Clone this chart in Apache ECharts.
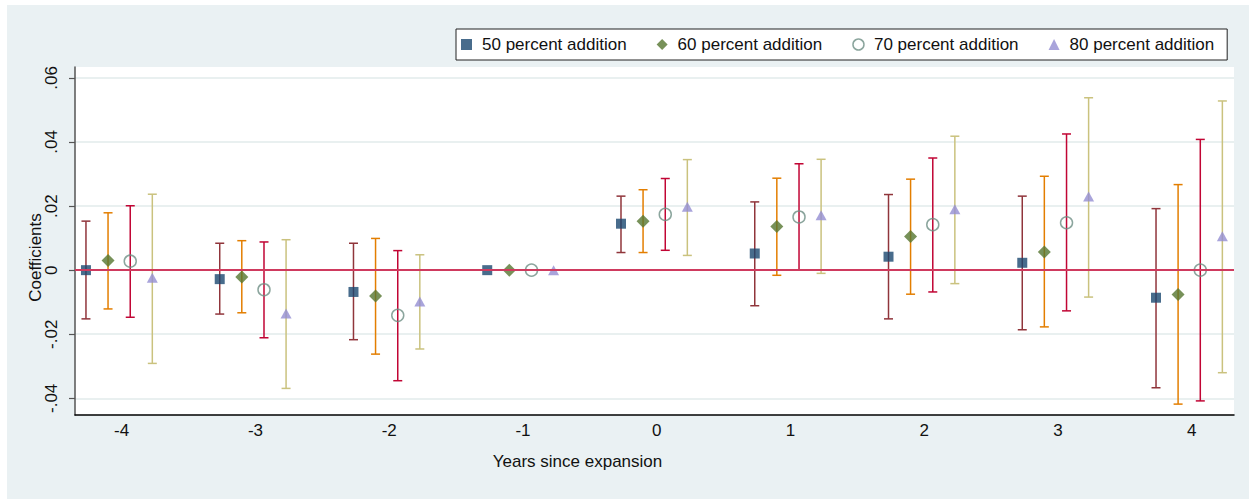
<!DOCTYPE html>
<html>
<head>
<meta charset="utf-8">
<title>Coefficients by years since expansion</title>
<script src="https://cdn.jsdelivr.net/npm/echarts@6/dist/echarts.min.js"></script>
<style>
  html, body { margin: 0; padding: 0; background: #fff; }
  #chart { width: 1249px; height: 499px; }
</style>
</head>
<body>
<div id="chart"></div>
<script>
// Event-time coefficients with confidence intervals, four specifications
const years = [-4, -3, -2, -1, 0, 1, 2, 3, 4];

const coef50 = [0.0000, -0.0028, -0.0068, 0, 0.0145, 0.0052, 0.0042, 0.0023, -0.0086];
const lo50   = [-0.0152, -0.0137, -0.0217, 0, 0.0055, -0.0111, -0.0152, -0.0186, -0.0367];
const hi50   = [0.0153, 0.0084, 0.0084, 0, 0.0231, 0.0213, 0.0236, 0.0231, 0.0192];

const coef60 = [0.0030, -0.0021, -0.0081, 0, 0.0153, 0.0136, 0.0105, 0.0057, -0.0076];
const lo60   = [-0.0121, -0.0133, -0.0262, 0, 0.0055, -0.0016, -0.0075, -0.0177, -0.0418];
const hi60   = [0.0179, 0.0092, 0.0099, 0, 0.0251, 0.0287, 0.0284, 0.0293, 0.0267];

const coef70 = [0.0028, -0.0061, -0.0141, 0, 0.0174, 0.0166, 0.0142, 0.0148, 0.0000];
const lo70   = [-0.0147, -0.0211, -0.0345, 0, 0.0062, 0.0000, -0.0068, -0.0127, -0.0408];
const hi70   = [0.0201, 0.0088, 0.0061, 0, 0.0286, 0.0332, 0.0350, 0.0425, 0.0408];

const coef80 = [-0.0024, -0.0135, -0.0098, 0, 0.0198, 0.0171, 0.0190, 0.0230, 0.0106];
const lo80   = [-0.0291, -0.0369, -0.0246, 0, 0.0046, -0.0010, -0.0042, -0.0084, -0.0320];
const hi80   = [0.0237, 0.0095, 0.0048, 0, 0.0345, 0.0346, 0.0418, 0.0538, 0.0528];

const seriesNames = ['50 percent addition', '60 percent addition', '70 percent addition', '80 percent addition'];
// horizontal dodge of each specification within a year
const dodge = [-0.267, -0.102, 0.064, 0.229];

const yTickValues = [-0.04, -0.02, 0, 0.02, 0.04, 0.06];
const yTickLabels = ['-.04', '-.02', '0', '.02', '.04', '.06'];
const xTickValues = [-4, -3, -2, -1, 0, 1, 2, 3, 4];
const xTickLabels = ['-4', '-3', '-2', '-1', '0', '1', '2', '3', '4'];

const FONT = '"Liberation Sans", Arial, Helvetica, sans-serif';

const markerStyles = [
  { symbol: 'rect', size: 10, itemStyle: { color: '#1a476f' } },
  { symbol: 'diamond', size: [13, 13], itemStyle: { color: '#55752f' } },
  { symbol: 'circle', size: 12, itemStyle: { color: 'rgba(255,255,255,0)', borderColor: '#6e8e84', borderWidth: 1.5 } },
  { symbol: 'triangle', size: [11, 10], itemStyle: { color: '#938dd2' } }
];
const capColors = ['#90353b', '#e37e00', '#c10534', '#cac27e'];

const coefs = [coef50, coef60, coef70, coef80];
const lows = [lo50, lo60, lo70, lo80];
const highs = [hi50, hi60, hi70, hi80];

function rcapRenderer(color) {
  return function (params, api) {
    const x = api.value(0);
    const pLo = api.coord([x, api.value(1)]);
    const pHi = api.coord([x, api.value(2)]);
    const hw = 4.5;
    const style = { stroke: color, lineWidth: 1.5 };
    return {
      type: 'group',
      children: [
        { type: 'line', shape: { x1: pLo[0], y1: pLo[1], x2: pHi[0], y2: pHi[1] }, style: style },
        { type: 'line', shape: { x1: pLo[0] - hw, y1: pLo[1], x2: pLo[0] + hw, y2: pLo[1] }, style: style },
        { type: 'line', shape: { x1: pHi[0] - hw, y1: pHi[1], x2: pHi[0] + hw, y2: pHi[1] }, style: style }
      ]
    };
  };
}

const series = [];
// zero reference line
series.push({
  type: 'line',
  data: [],
  silent: true,
  z: 1,
  markLine: {
    silent: true,
    symbol: 'none',
    label: { show: false },
    lineStyle: { color: '#cf3a5e', width: 2, type: 'solid' },
    data: [{ yAxis: 0 }]
  }
});

for (let s = 0; s < 4; s++) {
  const pts = years.map((yr, i) => [yr + dodge[s], coefs[s][i]]);
  const ci = years.map((yr, i) => [yr + dodge[s], lows[s][i], highs[s][i]]);
  series.push({
    name: seriesNames[s],
    type: 'scatter',
    symbol: markerStyles[s].symbol,
    symbolSize: markerStyles[s].size,
    itemStyle: markerStyles[s].itemStyle,
    data: pts,
    z: 3,
    silent: true
  });
  series.push({
    name: seriesNames[s] + ' CI',
    type: 'custom',
    renderItem: rcapRenderer(capColors[s]),
    encode: { x: 0, y: [1, 2] },
    data: ci,
    z: 3,
    silent: true
  });
}

const chart = echarts.init(document.getElementById('chart'), null, { renderer: 'svg' });
chart.setOption({
  animation: false,
  backgroundColor: '#ffffff',
  textStyle: { fontFamily: FONT },
  graphic: [{
    type: 'rect',
    z: -10,
    silent: true,
    shape: { x: 7, y: 5, width: 1242, height: 494 },
    style: { fill: '#eaf1f3' }
  }],
  legend: {
    data: seriesNames.map((n, i) => (i === 2
      ? { name: n, itemStyle: { borderWidth: 1.5 } }
      : { name: n })),
    left: 456,
    top: 29,
    orient: 'horizontal',
    backgroundColor: '#ffffff',
    borderColor: '#222',
    borderWidth: 1,
    borderRadius: 0,
    padding: [7, 13, 7, 5],
    itemWidth: 11,
    itemHeight: 11,
    itemGap: 30,
    selectedMode: false,
    textStyle: { fontFamily: FONT, fontSize: 17, color: '#111', padding: [0, 0, 0, 5] }
  },
  grid: {
    left: 75,
    right: 15,
    top: 67,
    bottom: 84,
    show: true,
    backgroundColor: '#ffffff',
    borderWidth: 0,
    containLabel: false
  },
  xAxis: {
    type: 'value',
    min: -4.349,
    max: 4.316,
    name: 'Years since expansion',
    nameLocation: 'middle',
    nameGap: 38,
    nameMoveOverlap: false,
    nameTextStyle: { fontFamily: FONT, fontSize: 17, color: '#111', padding: [0, 154, 0, 0] },
    axisLine: { show: true, onZero: false, lineStyle: { color: '#000', width: 1.5 } },
    axisTick: { show: false },
    splitLine: { show: false },
    axisLabel: {
      customValues: xTickValues,
      formatter: v => xTickLabels[xTickValues.indexOf(Math.round(v))],
      fontFamily: FONT,
      fontSize: 17,
      color: '#111',
      margin: 7
    }
  },
  yAxis: {
    type: 'value',
    min: -0.0452,
    max: 0.0634,
    name: 'Coefficients',
    nameLocation: 'middle',
    nameGap: 31,
    nameMoveOverlap: false,
    nameRotate: 90,
    nameTextStyle: { fontFamily: FONT, fontSize: 17, color: '#111', padding: [0, 33, 0, 0] },
    axisLine: { show: true, onZero: false, lineStyle: { color: '#555', width: 1.5 } },
    axisTick: { show: true, customValues: yTickValues, length: 6, lineStyle: { color: '#555', width: 1.2 } },
    splitLine: { show: true, lineStyle: { color: '#e9f0f0', width: 2 } },
    axisLabel: {
      customValues: yTickValues,
      formatter: v => {
        let best = 0;
        for (let i = 0; i < yTickValues.length; i++) {
          if (Math.abs(yTickValues[i] - v) < Math.abs(yTickValues[best] - v)) best = i;
        }
        return yTickLabels[best];
      },
      rotate: 90,
      fontFamily: FONT,
      fontSize: 17,
      color: '#111',
      margin: 15
    }
  },
  series: series
});
</script>
</body>
</html>
